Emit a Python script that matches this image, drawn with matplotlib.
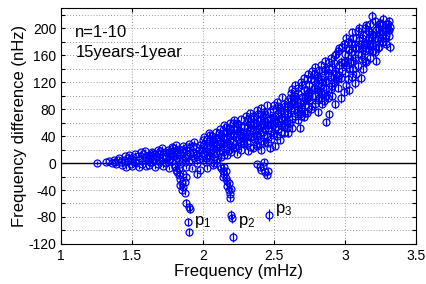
import numpy as np
import matplotlib
matplotlib.use("Agg")
import matplotlib.pyplot as plt

plt.rcParams['font.family'] = ['Liberation Sans', 'DejaVu Sans']
plt.rcParams['mathtext.fontset'] = 'custom'
plt.rcParams['mathtext.rm'] = 'Liberation Sans'

# main band in frequency slices (mHz, nHz)
f1 = [1.25, 1.32, 1.34, 1.36, 1.37, 1.38, 1.39, 1.40, 1.41, 1.42,
      1.43, 1.44, 1.45, 1.45, 1.46, 1.47, 1.47, 1.48, 1.49, 1.50,
      1.50, 1.51, 1.52, 1.52, 1.53, 1.54, 1.55, 1.55, 1.56, 1.57,
      1.57, 1.58, 1.59, 1.59, 1.60, 1.60]
d1 = [0, 1, 3, 0, 5, 2, -2, 4, 7, 1,
      -3, 5, 10, 2, -6, 8, 3, 12, -1, 6,
      -4, 9, 14, 2, 0, 11, -6, 5, 16, 8,
      -2, 13, 4, 18, -5, 9]

f2 = [1.61, 1.62, 1.62, 1.63, 1.64, 1.64, 1.65, 1.66, 1.66, 1.67,
      1.68, 1.68, 1.69, 1.70, 1.70, 1.71, 1.72, 1.72, 1.73, 1.74,
      1.74, 1.75, 1.76, 1.76, 1.77, 1.78, 1.78, 1.79, 1.80, 1.80,
      1.81, 1.82, 1.82, 1.83, 1.84, 1.84, 1.85, 1.86, 1.86, 1.87,
      1.88, 1.88, 1.89, 1.90, 1.90, 1.91, 1.92, 1.92, 1.93, 1.94,
      1.94, 1.95, 1.96, 1.96, 1.97, 1.98, 1.98, 1.99, 2.00, 2.00,
      1.61, 1.63, 1.65, 1.67, 1.69, 1.71, 1.73, 1.75, 1.77, 1.79,
      1.81, 1.83, 1.85, 1.87, 1.89, 1.91, 1.93, 1.95, 1.97, 1.99,
      1.64, 1.70, 1.76, 1.82, 1.88]
d2 = [4, 12, -3, 8, 17, 1, 10, -6, 14, 5,
      19, -2, 9, 13, 3, 22, -5, 7, 16, 11,
      0, 20, 6, -8, 14, 24, 3, 10, 18, -4,
      27, 8, 15, 21, -2, 12, 5, 25, 17, 9,
      -6, 19, 13, 28, 3, 22, 10, -8, 16, 31,
      7, 24, 0, 14, 20, -10, 27, 11, 34, 4,
      8, 2, 15, 11, 5, 9, 1, 13, 6, 22,
      14, 4, 20, 2, 24, 15, 26, 12, 6, 19,
      10, 18, 16, 20, 8]

f3 = [2.01, 2.01, 2.02, 2.03, 2.03, 2.04, 2.05, 2.05, 2.06, 2.07,
      2.07, 2.08, 2.09, 2.09, 2.10, 2.11, 2.11, 2.12, 2.13, 2.13,
      2.14, 2.15, 2.15, 2.16, 2.17, 2.17, 2.18, 2.19, 2.19, 2.20,
      2.21, 2.21, 2.22, 2.23, 2.23, 2.24, 2.25, 2.25, 2.26, 2.27,
      2.27, 2.28, 2.29, 2.29, 2.30, 2.30, 2.02, 2.06, 2.10, 2.14,
      2.18, 2.22, 2.26, 2.04, 2.08, 2.12, 2.16, 2.20, 2.24, 2.28,
      2.00, 2.01, 2.02, 2.03, 2.04, 2.05, 2.06, 2.07, 2.08, 2.09,
      2.10, 2.11, 2.12, 2.13, 2.14, 2.15, 2.16, 2.17, 2.18, 2.19,
      2.20, 2.21, 2.22, 2.23, 2.24, 2.25, 2.26, 2.27, 2.28, 2.29,
      2.03, 2.09, 2.15, 2.21, 2.27]
d3 = [15, 38, 2, 24, -7, 30, 10, 42, 20, -3,
      34, 14, 46, 26, 6, 38, 18, 50, 30, 9,
      44, 22, 56, 36, 12, 48, 28, 60, 40, 17,
      52, 32, 64, 24, 45, 14, 58, 36, 48, 20,
      66, 40, 28, 55, 46, 70, 8, 33, 28, 16,
      20, 42, 30, 44, 0, 24, 54, 25, 50, 32,
      22, 28, 18, 36, 12, 24, 40, 16, 30, 4,
      22, 44, 34, 40, 28, 12, 46, 38, 52, 32,
      44, 22, 50, 38, 60, 26, 42, 54, 30, 36,
      8, 36, 30, 60, 46]

f4 = [2.31, 2.31, 2.32, 2.33, 2.33, 2.34, 2.35, 2.35, 2.36, 2.37,
      2.37, 2.38, 2.39, 2.39, 2.40, 2.41, 2.41, 2.42, 2.43, 2.43,
      2.44, 2.45, 2.45, 2.46, 2.47, 2.47, 2.48, 2.49, 2.49, 2.50,
      2.51, 2.51, 2.52, 2.53, 2.53, 2.54, 2.55, 2.55, 2.56, 2.57,
      2.57, 2.58, 2.59, 2.59, 2.60, 2.60, 2.32, 2.36, 2.40, 2.44,
      2.48, 2.52, 2.56, 2.34, 2.38, 2.42, 2.46, 2.50, 2.54, 2.58,
      2.30, 2.31, 2.32, 2.33, 2.34, 2.35, 2.36, 2.37, 2.38, 2.39,
      2.40, 2.41, 2.42, 2.43, 2.44, 2.45, 2.46, 2.47, 2.48, 2.49,
      2.50, 2.51, 2.52, 2.53, 2.54, 2.55, 2.56, 2.57, 2.58, 2.59,
      2.33, 2.37, 2.41, 2.45, 2.49, 2.53, 2.57, 2.35, 2.43, 2.51]
d4 = [30, 62, 18, 48, 74, 38, 22, 56, 68, 42,
      28, 78, 50, 34, 64, 20, 82, 46, 58, 30,
      72, 40, 86, 52, 22, 66, 36, 80, 56, 44,
      26, 70, 90, 50, 62, 34, 78, 56, 98, 44,
      68, 84, 52, 74, 44, 92, 40, 60, 54, 62,
      48, 60, 64, 52, 40, 70, 58, 66, 76, 60,
      38, 52, 66, 24, 58, 70, 36, 60, 26, 72,
      44, 56, 32, 76, 50, 64, 30, 76, 58, 42,
      86, 54, 40, 74, 82, 46, 66, 88, 56, 62,
      58, 48, 66, 56, 68, 84, 54, 40, 42, 62]

f5 = [2.61, 2.61, 2.62, 2.63, 2.63, 2.64, 2.65, 2.65, 2.66, 2.67,
      2.67, 2.68, 2.69, 2.69, 2.70, 2.71, 2.71, 2.72, 2.73, 2.73,
      2.74, 2.75, 2.75, 2.76, 2.77, 2.77, 2.78, 2.79, 2.79, 2.80,
      2.81, 2.81, 2.82, 2.83, 2.83, 2.84, 2.85, 2.85, 2.86, 2.87,
      2.87, 2.88, 2.89, 2.89, 2.90, 2.90, 2.62, 2.66, 2.70, 2.74,
      2.78, 2.82, 2.86, 2.64, 2.68, 2.72, 2.76, 2.80, 2.84, 2.88,
      2.60, 2.61, 2.62, 2.63, 2.64, 2.65, 2.66, 2.67, 2.68, 2.69,
      2.70, 2.71, 2.72, 2.73, 2.74, 2.75, 2.76, 2.77, 2.78, 2.79,
      2.80, 2.81, 2.82, 2.83, 2.84, 2.85, 2.86, 2.87, 2.88, 2.89,
      2.63, 2.67, 2.71, 2.75, 2.79, 2.83, 2.87, 2.65, 2.73, 2.81]
d5 = [60, 96, 78, 110, 52, 88, 70, 116, 94, 64,
      104, 52, 82, 120, 98, 68, 126, 86, 108, 74,
      132, 92, 116, 80, 136, 100, 122, 88, 142, 110,
      76, 128, 96, 146, 114, 88, 136, 104, 152, 61,
      122, 96, 72, 140, 110, 156, 82, 84, 80, 104,
      112, 108, 120, 100, 72, 96, 124, 130, 102, 134,
      72, 84, 104, 66, 96, 100, 76, 112, 90, 70,
      116, 92, 74, 124, 96, 106, 124, 84, 132, 100,
      126, 94, 138, 104, 120, 92, 140, 110, 130, 150,
      88, 80, 108, 100, 112, 124, 100, 92, 96, 116]

f6 = [2.91, 2.91, 2.92, 2.93, 2.93, 2.94, 2.95, 2.95, 2.96, 2.97,
      2.97, 2.98, 2.99, 2.99, 3.00, 3.01, 3.01, 3.02, 3.03, 3.03,
      3.04, 3.05, 3.05, 3.06, 3.07, 3.07, 3.08, 3.09, 3.09, 3.10,
      3.11, 3.11, 3.12, 3.13, 3.13, 3.14, 3.15, 3.15, 3.16, 3.17,
      3.17, 3.18, 3.19, 3.19, 3.20, 3.21, 3.21, 3.22, 3.23, 3.23,
      3.24, 3.25, 3.25, 3.26, 3.27, 3.27, 3.28, 3.29, 3.29, 3.30,
      3.31, 3.31, 3.32, 3.32, 2.94, 3.00, 3.06, 3.12, 3.18, 3.24,
      2.90, 2.91, 2.92, 2.93, 2.94, 2.95, 2.96, 2.97, 2.98, 2.99,
      3.00, 3.01, 3.02, 3.03, 3.04, 3.05, 3.06, 3.07, 3.08, 3.09,
      3.10, 3.11, 3.12, 3.13, 3.14, 3.15, 3.16, 3.17, 3.18, 3.19,
      3.20, 3.21, 3.22, 3.23, 3.24, 3.25, 3.26, 3.27, 3.28, 3.29,
      3.30, 3.31, 2.96, 3.02, 3.08, 3.14, 3.20, 3.26, 3.04, 3.16]
d6 = [100, 142, 120, 160, 88, 132, 112, 166, 146, 96,
      126, 172, 106, 150, 134, 186, 116, 160, 140, 108,
      178, 128, 194, 152, 170, 118, 186, 144, 162, 200,
      126, 176, 154, 190, 140, 166, 204, 150, 182, 168,
      196, 156, 218, 178, 190, 164, 210, 152, 200, 184,
      172, 208, 192, 180, 214, 196, 186, 206, 176, 198,
      188, 210, 172, 202, 124, 150, 140, 170, 176, 192,
      128, 114, 148, 136, 162, 124, 170, 150, 136, 176,
      162, 146, 180, 168, 150, 176, 186, 156, 170, 196,
      182, 160, 186, 172, 200, 178, 196, 186, 206, 192,
      174, 186, 198, 170, 206, 186, 196, 180, 200, 190,
      206, 198, 130, 124, 132, 152, 166, 206, 164, 170]

# typical error per slice
seg_err = [2.5, 3, 4, 5, 6, 7]

# downward branches and isolated points near p1, p2, p3
fb1 = [1.80, 1.81, 1.82, 1.83, 1.83, 1.84, 1.85, 1.85, 1.86, 1.87, 1.87, 1.88, 1.84, 1.86]
db1 = [-6, -10, -14, -18, -8, -24, -30, -40, -36, -28, -44, -20, -32, -16]
fb2 = [2.12, 2.13, 2.14, 2.15, 2.15, 2.16, 2.17, 2.17, 2.18, 2.18, 2.19, 2.19, 2.20, 2.14, 2.16]
db2 = [-4, -8, -12, -16, -6, -22, -26, -34, -30, -40, -46, -52, -38, -20, -12]
fb3 = [2.38, 2.40, 2.41, 2.43, 2.44, 2.45, 2.46, 2.42]
db3 = [-2, -6, -10, 2, -14, -18, -12, -4]
branch_err = 4

fi = [1.88, 1.90, 1.905, 1.895, 1.90, 1.96, 2.20, 2.205, 2.21, 2.465]
di = [-59, -65, -68, -87, -102, -16, -77, -82, -110, -77]
ei = [6, 6, 6, 6, 6, 5, 8, 7, 7, 9]

labels = [('p', '1', 1.94, -88), ('p', '2', 2.25, -88), ('p', '3', 2.51, -70)]

fig = plt.figure(figsize=(4.27, 2.84), dpi=100)
ax = fig.add_axes([0.143, 0.141, 0.831, 0.831])

ax.axhline(0, color='k', lw=1.0, zorder=1)

segs = [(f1, d1), (f2, d2), (f3, d3), (f4, d4), (f5, d5), (f6, d6)]
style = dict(fmt='o', mfc='none', mec='b', ecolor='b', ms=5, mew=0.9,
             elinewidth=0.9, capsize=0, zorder=3)
for (f, d), e in zip(segs, seg_err):
    ax.errorbar(f, d, yerr=e, **style)
for f, d in [(fb1, db1), (fb2, db2), (fb3, db3)]:
    ax.errorbar(f, d, yerr=branch_err, **style)
ax.errorbar(fi, di, yerr=ei, **style)

for p, sub, x, y in labels:
    ax.text(x, y, r'$\mathregular{%s_{%s}}$' % (p, sub), fontsize=12, va='center')

ax.text(1.10, 193, 'n=1-10', fontsize=12, va='center')
ax.text(1.10, 164, '15years-1year', fontsize=12, va='center')

ax.set_xlim(1, 3.5)
ax.set_ylim(-120, 230)
ax.set_xticks(np.arange(1, 3.51, 0.5))
ax.set_xticklabels(['1', '1.5', '2', '2.5', '3', '3.5'])
yt = np.arange(-120, 221, 20)
ax.set_yticks(yt)
ax.set_yticklabels([str(v) if v % 40 == 0 else '' for v in yt])
ax.grid(True, ls=(0, (1, 2.5)), color='#777777', lw=0.6)
ax.set_axisbelow(True)
ax.tick_params(direction='in', top=True, right=True, length=3, labelsize=10, width=0.8)
for s in ax.spines.values():
    s.set_linewidth(0.8)

ax.set_xlabel('Frequency (mHz)', fontsize=12, labelpad=1)
ax.set_ylabel('Frequency difference (nHz)', fontsize=12, labelpad=1)

fig.savefig('out.png', dpi=100)
